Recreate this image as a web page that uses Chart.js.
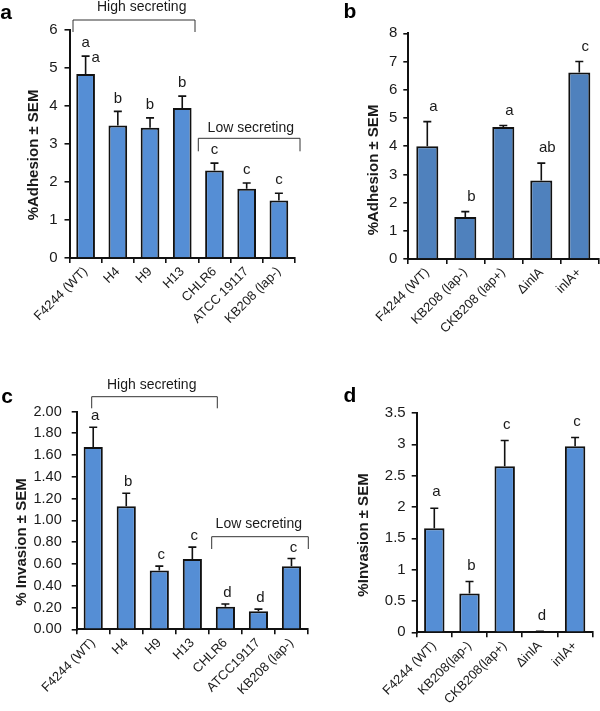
<!DOCTYPE html>
<html>
<head>
<meta charset="utf-8">
<script src="https://cdn.jsdelivr.net/npm/chart.js@4.4.0/dist/chart.umd.min.js"></script>
<style>
    body { margin: 0; background: #fff; width: 600px; height: 711px; position: relative; overflow: hidden; }
    canvas { position: absolute; }
</style>
</head>
<body>
<canvas id="panelA" width="302" height="355" style="left:0;top:0;width:302px;height:355px"></canvas>
<canvas id="panelB" width="300" height="355" style="left:300px;top:0;width:300px;height:355px"></canvas>
<canvas id="panelC" width="312" height="356" style="left:0;top:355px;width:312px;height:356px"></canvas>
<canvas id="panelD" width="300" height="356" style="left:300px;top:355px;width:300px;height:356px"></canvas>
<script>
// Panel a - adhesion, secretion strains
const strainsA = ['F4244 (WT)', 'H4', 'H9', 'H13', 'CHLR6', 'ATCC 19117', 'KB208 (lap-)'];
const adhesionA = [4.83, 3.48, 3.42, 3.94, 2.30, 1.82, 1.51];
const semA = [0.47, 0.37, 0.26, 0.31, 0.19, 0.15, 0.19];
const lettersA = ['a', 'b', 'b', 'b', 'c', 'c', 'c'];
const ticksA = [0, 1, 2, 3, 4, 5, 6];

// Panel b - adhesion, lap / inlA mutants
const strainsB = ['F4244 (WT)', 'KB208 (lap-)', 'CKB208 (lap+)', 'ΔinlA', 'inlA+'];
const adhesionB = [4.00, 1.49, 4.68, 2.78, 6.61];
const semB = [0.87, 0.19, 0.05, 0.62, 0.39];
const lettersB = ['a', 'b', 'a', 'ab', 'c'];
const ticksB = [0, 1, 2, 3, 4, 5, 6, 7, 8];

// Panel c - invasion, secretion strains
const strainsC = ['F4244 (WT)', 'H4', 'H9', 'H13', 'CHLR6', 'ATCC19117', 'KB208 (lap-)'];
const invasionC = [1.675, 1.13, 0.54, 0.645, 0.207, 0.165, 0.58];
const semC = [0.18, 0.12, 0.04, 0.11, 0.025, 0.02, 0.07];
const lettersC = ['a', 'b', 'c', 'c', 'd', 'd', 'c'];
const ticksC = [0, 0.2, 0.4, 0.6, 0.8, 1.0, 1.2, 1.4, 1.6, 1.8, 2.0];

// Panel d - invasion, lap / inlA mutants
const strainsD = ['F4244 (WT)', 'KB208(lap-)', 'CKB208(lap+)', 'ΔinlA', 'inlA+'];
const invasionD = [1.66, 0.62, 2.65, 0.01, 2.97];
const semD = [0.32, 0.19, 0.41, 0.005, 0.14];
const lettersD = ['a', 'b', 'c', 'd', 'c'];
const ticksD = [0, 0.5, 1, 1.5, 2, 2.5, 3, 3.5];

const FONT = "'Liberation Sans', Arial, sans-serif";

// error bars, significance letters, brackets, titles
const annotate = {
    id: 'annotate',
    afterDatasetsDraw(chart, args, opts) {
        const ctx = chart.ctx;
        const yScale = chart.scales.y;
        const values = chart.data.datasets[0].data;
        ctx.save();
        ctx.strokeStyle = '#111';
        ctx.lineWidth = 1.6;
        ctx.fillStyle = '#1a1a1a';
        ctx.font = '15px ' + FONT;
        ctx.textAlign = 'center';
        ctx.textBaseline = 'middle';
        chart.getDatasetMeta(0).data.forEach((bar, i) => {
            const top = yScale.getPixelForValue(values[i] + opts.sem[i]);
            ctx.beginPath();
            ctx.moveTo(bar.x, bar.y);
            ctx.lineTo(bar.x, top);
            ctx.moveTo(bar.x - 4, top);
            ctx.lineTo(bar.x + 4, top);
            ctx.stroke();
            ctx.fillText(opts.letters[i], bar.x + (opts.letterDx || 0), top - opts.letterGap);
        });
        (opts.extra || []).forEach(e => {
            const bar = chart.getDatasetMeta(0).data[e.index];
            const top = yScale.getPixelForValue(values[e.index] + opts.sem[e.index]);
            ctx.fillText(e.text, bar.x + e.dx, top + e.dy);
        });
        ctx.restore();
    },
    afterDraw(chart, args, opts) {
        const ctx = chart.ctx;
        ctx.save();
        // brackets
        ctx.strokeStyle = '#333';
        ctx.lineWidth = 1;
        ctx.fillStyle = '#1a1a1a';
        ctx.font = '14px ' + FONT;
        ctx.textAlign = 'center';
        ctx.textBaseline = 'alphabetic';
        (opts.brackets || []).forEach(b => {
            ctx.beginPath();
            ctx.moveTo(b.x1, b.y + b.drop);
            ctx.lineTo(b.x1, b.y);
            ctx.lineTo(b.x2, b.y);
            ctx.lineTo(b.x2, b.y + b.drop);
            ctx.stroke();
            ctx.fillText(b.text, b.tx, b.ty);
        });
        // y axis title
        ctx.font = 'bold 15px ' + FONT;
        ctx.textBaseline = 'middle';
        ctx.translate(opts.title.x, opts.title.y);
        ctx.rotate(-Math.PI / 2);
        ctx.fillText(opts.title.text, 0, 0);
        ctx.restore();
        // panel letter
        ctx.save();
        ctx.fillStyle = '#000';
        ctx.font = 'bold 21px ' + FONT;
        ctx.textAlign = 'center';
        ctx.textBaseline = 'middle';
        ctx.fillText(opts.panel.text, opts.panel.x, opts.panel.y);
        ctx.restore();
    }
};

function buildPanel(id, p) {
    new Chart(document.getElementById(id), {
        type: 'bar',
        data: {
            labels: p.labels,
            datasets: [{
                data: p.values,
                backgroundColor: p.color,
                borderColor: '#111',
                borderWidth: 2,
                borderSkipped: 'bottom',
                barPercentage: 0.58,
                categoryPercentage: 1
            }]
        },
        options: {
            responsive: false,
            animation: false,
            devicePixelRatio: 1,
            layout: { padding: { left: 0, top: p.area.top, right: p.area.right, bottom: 0 } },
            plugins: {
                legend: { display: false },
                tooltip: { enabled: false },
                annotate: p.notes
            },
            scales: {
                x: {
                    grid: { drawOnChartArea: false, color: '#111', tickLength: 5, lineWidth: 1.6 },
                    border: { color: '#111', width: 2 },
                    ticks: { color: '#1a1a1a', font: { family: FONT, size: 13 }, minRotation: 45, maxRotation: 45, padding: 1 },
                    afterFit: s => { s.height = p.area.xHeight; }
                },
                y: {
                    min: p.ticks[0],
                    max: p.ticks[p.ticks.length - 1],
                    afterBuildTicks: s => { s.ticks = p.ticks.map(v => ({ value: v })); },
                    grid: { drawOnChartArea: false, color: '#111', tickLength: 5, lineWidth: 1.6 },
                    border: { color: '#111', width: 2 },
                    ticks: {
                        color: '#1a1a1a',
                        font: { family: FONT, size: p.tickSize },
                        padding: p.tickPad,
                        callback: v => p.fmt(v)
                    },
                    afterFit: s => { s.width = p.area.left; }
                }
            }
        },
        plugins: [annotate]
    });
}

buildPanel('panelA', {
    labels: strainsA, values: adhesionA, ticks: ticksA, color: '#558ED5',
    fmt: v => String(v), tickSize: 15, tickPad: 7,
    area: { left: 69.5, top: 29.5, right: 7, xHeight: 97 },
    notes: {
        sem: semA, letters: lettersA, letterGap: 13,
        extra: [{ index: 0, text: 'a', dx: 10, dy: 2 }],
        brackets: [
            { x1: 73, x2: 195, y: 20, drop: 12, text: 'High secreting', tx: 141.7, ty: 11 },
            { x1: 198.3, x2: 300, y: 138.3, drop: 13, text: 'Low secreting', tx: 250.8, ty: 132 }
        ],
        title: { text: '%Adhesion ± SEM', x: 34, y: 155 },
        panel: { text: 'a', x: 6, y: 13 }
    }
});

buildPanel('panelB', {
    labels: strainsB, values: adhesionB, ticks: ticksB, color: '#4F81BD',
    fmt: v => String(v), tickSize: 15, tickPad: 6,
    area: { left: 108.3, top: 33.3, right: 1.7, xHeight: 96 },
    notes: {
        sem: semB, letters: lettersB, letterGap: 15, letterDx: 6,
        title: { text: '%Adhesion ± SEM', x: 74, y: 170 },
        panel: { text: 'b', x: 50, y: 12 }
    }
});

buildPanel('panelC', {
    labels: strainsC, values: invasionC, ticks: ticksC, color: '#558ED5',
    fmt: v => v.toFixed(2), tickSize: 14.5, tickPad: 10,
    area: { left: 76.7, top: 56.5, right: 4, xHeight: 81.7 },
    notes: {
        sem: semC, letters: lettersC, letterGap: 11, letterDx: 2,
        brackets: [
            { x1: 91.7, x2: 217.3, y: 41.7, drop: 11.6, text: 'High secreting', tx: 151.7, ty: 34.3 },
            { x1: 211.7, x2: 308.3, y: 181.7, drop: 12.3, text: 'Low secreting', tx: 258.8, ty: 173.3 }
        ],
        title: { text: '% Invasion ± SEM', x: 22, y: 187 },
        panel: { text: 'c', x: 7, y: 42 }
    }
});

buildPanel('panelD', {
    labels: strainsD, values: invasionD, ticks: ticksD, color: '#558ED5',
    fmt: v => String(v), tickSize: 15, tickPad: 6,
    area: { left: 116.7, top: 58, right: 7.3, xHeight: 78.7 },
    notes: {
        sem: semD, letters: lettersD, letterGap: 16, letterDx: 2,
        title: { text: '%Invasion ± SEM', x: 64, y: 180 },
        panel: { text: 'd', x: 50, y: 41 }
    }
});
</script>
</body>
</html>
